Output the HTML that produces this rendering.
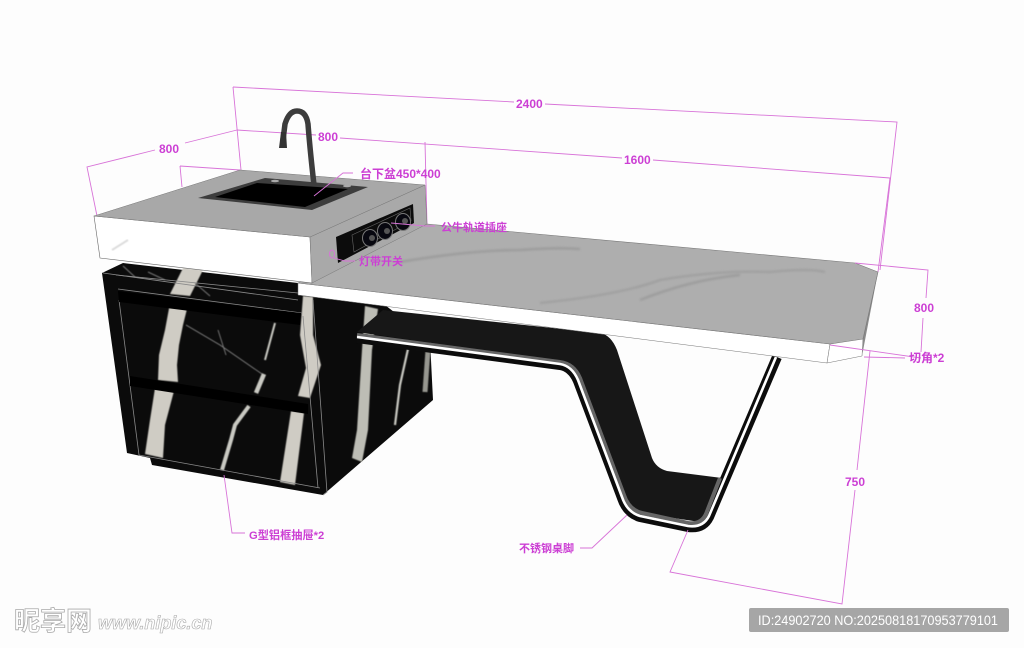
<!DOCTYPE html>
<html><head><meta charset="utf-8"><style>
html,body{margin:0;padding:0;background:#fdfdfd}
svg{display:block}
text{font-family:"Liberation Sans","Noto Sans CJK SC",sans-serif}
.d{fill:none;stroke:#d873d8;stroke-width:.9}
.l{fill:#cc3fd4;font-size:12px;font-weight:bold}
.c{fill:#cc3fd4;font-size:11px;font-weight:bold}
</style></head><body>
<svg width="1024" height="648" viewBox="0 0 1024 648" xmlns="http://www.w3.org/2000/svg">
<defs><filter id="b"><feGaussianBlur stdDeviation="0.5"/></filter><filter id="b2"><feGaussianBlur stdDeviation="1"/></filter></defs>
<rect width="1024" height="648" fill="#fdfdfd"/>

<!-- dimension lines behind -->
<g class="d">
<path d="M233 87L514 102M545 104L897 122L880 270"/>
<path d="M233 87L241 170"/>
<path d="M237 130L316 135M340 138L622 158M653 160L890 178L878 272"/>
<path d="M237 130L185 143M155 150L87 167L97 216"/>
<path d="M180 166L240 170M180 166L182 187"/>
<path d="M425 142L427 225"/>
</g>

<!-- cabinet -->
<path d="M102 273L123 263L298 283L385 305L430 340L433 400L323 495L152 465L150 458L127 453Z" fill="#0b0b0b"/>
<g filter="url(#b)" fill="#cfccc4">
<path d="M183 268L203 270L190 296L170 294Z"/>
<path d="M170 303L188 305L183 325L179 345L177 365L178 382L158 380L159 355L165 330Z"/>
<path d="M155 388L174 391L165 425L163 458L145 454L150 420Z"/>
<path d="M303 296L313 297L313 335L321 365L310 398L298 396L306 368L300 335Z"/>
<path d="M291 411L304 413L295 485L280 482Z"/>
<path d="M365 306L378 309L372 350L368 430L362 462L352 458L357 430L362 350Z" fill="#bdbdb5"/>
</g>
<g filter="url(#b)" fill="none" stroke="#c9c9c2" stroke-linecap="butt">
<path d="M275 323L265 360" stroke-width="2"/>
<path d="M264 374L256 393" stroke-width="4.5"/>
<path d="M249 406L235 425L231 440L222 470" stroke-width="4"/>
<path d="M408 349L400 385L395 425" stroke-width="2.2"/>
<path d="M428 350L425 392" stroke-width="5" stroke="#96968f"/>
<path d="M186 325L220 345L262 374M218 330L226 355" stroke="#888" stroke-width=".8"/>
<path d="M123 266L135 277M148 272L165 280M195 283L210 296" stroke="#777" stroke-width="1"/>
</g>
<g fill="none" stroke="#8a8a8a" stroke-width=".8">
<path d="M103 273L298 300"/>
<path d="M116 275L298 293"/>
<path d="M119 300L139 455M303 316L318 488M139 455L320 488"/>
<path d="M313 300L327 492L323 495"/>
<path d="M118 289L302 313"/>
</g>
<path d="M118 291L301 313L300 325L119 302Z" fill="#000"/>
<path d="M130 376L308 404L308 414L130 386Z" fill="#000"/>

<!-- leg -->
<path d="M357 332L383 310L600 333Q611 335 617 350L652 458Q656 468 667 471L722 478L700 522L640 513Q630 510 622 497L582 382Q576 366 560 362Z" fill="#171717"/>
<g fill="none" stroke-linejoin="round">
<path d="M357 338L560 365Q572 367 578 381L622 498Q627 513 640 517L688 527Q703 529 709 517L777 357" stroke="#0c0c0c" stroke-width="10"/>
<path d="M357 335L560 362Q574 364 580 378L624 495Q629 510 642 513L688 523Q701 525 706 514L720 478" stroke="#666" stroke-width="4"/>
<path d="M357 337L560 364Q572 366 578 380L622 497Q627 512 640 516L688 526Q703 528 709 516L776 357" stroke="#fff" stroke-width="2.6"/>
</g>

<!-- table top -->
<path d="M298 283L830 344L827 363L298 295Z" fill="#fff" stroke="#777" stroke-width=".5"/>
<path d="M830 344L863 338L862 356L827 363Z" fill="#fff" stroke="#777" stroke-width=".5"/>
<path d="M878 272L863 338L862 356Z" fill="#8a8a8a"/>
<path d="M298 283L427 224L855 263L878 272L863 339L830 344Z" fill="#aeaeae" stroke="#777" stroke-width=".6"/>
<g filter="url(#b2)" fill="none" stroke="#989898">
<path d="M400 262Q470 250 520 250Q560 247 580 249" stroke-width="2"/>
<path d="M540 303Q620 295 660 280Q720 270 770 272Q810 268 825 272" stroke-width="1.5"/>
<path d="M640 300Q690 280 740 275" stroke-width="2"/>
</g>

<!-- sink block -->
<path d="M94 216L310 237L312 283L100 258Z" fill="#fff" stroke="#666" stroke-width=".6"/>
<path d="M310 237L425 185L427 224L312 283Z" fill="#a9a9a9" stroke="#777" stroke-width=".5"/>
<path d="M94 216L240 170L425 185L310 237Z" fill="#a8a8a8" stroke="#777" stroke-width=".5"/>
<path d="M112 250L128 240" stroke="#ddd" stroke-width="2" filter="url(#b)"/>
<path d="M198 198L265 178L368 187L312 210Z" fill="#3d3d3d"/>
<path d="M215 197L257 183L348 189L305 207Z" fill="#000"/>
<ellipse cx="275" cy="181" rx="4" ry="1.3" fill="#aaa"/><ellipse cx="347" cy="186" rx="4" ry="1.3" fill="#aaa"/>

<!-- faucet -->
<path d="M283 140L285 124Q289 111 297 111Q306 111 308 124Q310 150 314 185" fill="none" stroke="#3c3c3c" stroke-width="5.5"/>
<path d="M279 148L287 148L286 132L281 132Z" fill="#333"/>

<!-- socket -->
<path d="M336 237L413 204L414 223L338 263Z" fill="#0c0c0c"/>
<path d="M352 235L410 208L411 221L354 252Z" fill="none" stroke="#666" stroke-width=".6"/>
<g stroke="#777" stroke-width="1" fill="#080810">
<ellipse cx="370" cy="238" rx="7.5" ry="8.5"/><ellipse cx="385" cy="231" rx="7.5" ry="8.5"/><ellipse cx="403" cy="222" rx="7.5" ry="8.5"/>
</g>
<g fill="#555"><circle cx="372" cy="238" r="3"/><circle cx="387" cy="231" r="3"/><circle cx="405" cy="221" r="3"/></g>

<!-- front dims and leaders -->
<g class="d">
<path d="M855 263L928 270L926 298M923 318L921 352M830 345L921 358"/>
<path d="M870 351L857 470M855 490L842 604L670 572L688 530"/>
<path d="M864 357L905 358"/>
<path d="M314 196L343 173L353 173"/>
<path d="M391 223L425 226L435 226"/>
<ellipse cx="332" cy="254" rx="2.5" ry="4"/>
<path d="M334 258L345 261L355 261"/>
<path d="M224 475L232 533L245 533"/>
<path d="M627 515L592 548L580 548"/>
</g>

<g class="l">
<text x="516" y="108">2400</text>
<text x="318" y="141">800</text>
<text x="159" y="153">800</text>
<text x="624" y="164">1600</text>
<text x="914" y="312">800</text>
<text x="845" y="486">750</text>
<text x="360" y="178">台下盆450*400</text>
<text x="909" y="362">切角*2</text>
<text x="249" y="539" style="font-size:11.2px">G型铝框抽屉*2</text>
</g>
<g class="c">
<text x="441" y="231">公牛轨道插座</text>
<text x="359" y="265">灯带开关</text>
<text x="519" y="552">不锈钢桌脚</text>
</g>

<!-- watermark -->
<text x="14" y="630" font-size="26" font-weight="bold" fill="#fff" stroke="#aaa" stroke-width=".8">昵享网</text>
<text x="98" y="629" font-size="18" font-weight="bold" font-style="italic" fill="#fff" stroke="#aaa" stroke-width=".6">www.nipic.cn</text>
<rect x="749" y="608" width="260" height="24" rx="2" fill="#a6a6a6"/>
<text x="758" y="625" font-size="14" fill="#fff" textLength="240" lengthAdjust="spacingAndGlyphs">ID:24902720 NO:20250818170953779101</text>
</svg>
</body></html>
